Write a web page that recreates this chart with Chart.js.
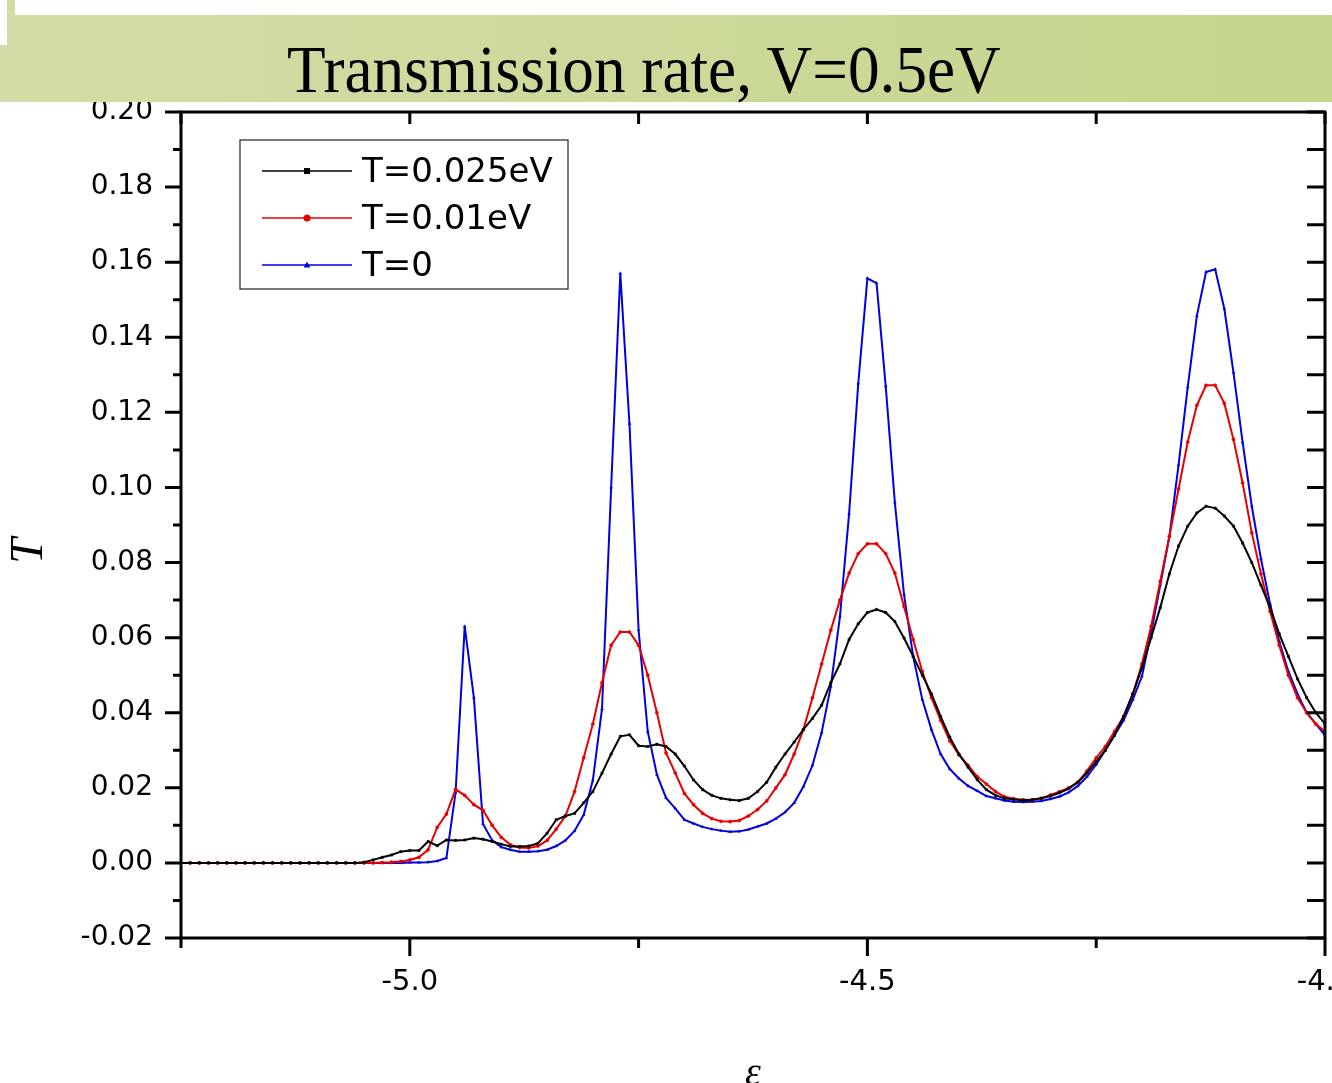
<!DOCTYPE html>
<html>
<head>
<meta charset="utf-8">
<script src="https://cdn.jsdelivr.net/npm/chart.js@4.4.0/dist/chart.umd.min.js"></script>
<style>
  body { margin: 0; width: 1332px; height: 1083px; overflow: hidden; position: relative; background: #fff; }
  #c { position: absolute; left: 0; top: 0; }
  .band { position: absolute; left: 0; top: 15px; width: 1332px; height: 87px;
          background: linear-gradient(to right, #d5dca7, #c3d68c); }
  .patch { position: absolute; left: 0; top: 0; width: 7px; height: 45px; background: #fff; }
  .strip { position: absolute; left: 7px; top: 0; width: 8px; height: 15px; background: #d3dba3; }
  .title { position: absolute; left: 287px; top: 35px; font-family: "Liberation Serif", serif;
           font-size: 68px; line-height: 68px; white-space: nowrap; color: #000;
           transform: scaleX(0.93); transform-origin: left top; }
</style>
</head>
<body>
<canvas id="c" width="1332" height="1083"></canvas>
<div class="band"></div>
<div class="patch"></div>
<div class="strip"></div>
<div class="title">Transmission rate, V=0.5eV</div>
<script>
// energy grid (eV)
const energies = [
  -5.25, -5.24, -5.23, -5.22, -5.21, -5.20, -5.19, -5.18, -5.17, -5.16,
  -5.15, -5.14, -5.13, -5.12, -5.11, -5.10, -5.09, -5.08, -5.07, -5.06,
  -5.05, -5.04, -5.03, -5.02, -5.01, -5.00, -4.99, -4.98, -4.97, -4.96,
  -4.95, -4.94, -4.93, -4.92, -4.91, -4.90, -4.89, -4.88, -4.87, -4.86,
  -4.85, -4.84, -4.83, -4.82, -4.81, -4.80, -4.79, -4.78, -4.77, -4.76,
  -4.75, -4.74, -4.73, -4.72, -4.71, -4.70, -4.69, -4.68, -4.67, -4.66,
  -4.65, -4.64, -4.63, -4.62, -4.61, -4.60, -4.59, -4.58, -4.57, -4.56,
  -4.55, -4.54, -4.53, -4.52, -4.51, -4.50, -4.49, -4.48, -4.47, -4.46,
  -4.45, -4.44, -4.43, -4.42, -4.41, -4.40, -4.39, -4.38, -4.37, -4.36,
  -4.35, -4.34, -4.33, -4.32, -4.31, -4.30, -4.29, -4.28, -4.27, -4.26,
  -4.25, -4.24, -4.23, -4.22, -4.21, -4.20, -4.19, -4.18, -4.17, -4.16,
  -4.15, -4.14, -4.13, -4.12, -4.11, -4.10, -4.09, -4.08, -4.07, -4.06,
  -4.05, -4.04, -4.03, -4.02, -4.01, -4.00
];

// T = 0.025 eV
const transT025 = [
  0, 0, 0, 0, 0, 0, 0, 0, 0, 0,
  0, 0, 0, 0, 0, 0, 0, 0, 0, 0,
  0.0002, 0.0008, 0.0015, 0.0021, 0.0030, 0.0033, 0.0033, 0.0057, 0.0046, 0.0061,
  0.0060, 0.0061, 0.0066, 0.0063, 0.0057, 0.0050, 0.0044, 0.0044, 0.0045, 0.0052,
  0.0079, 0.0115, 0.0125, 0.0132, 0.0160, 0.0190, 0.0239, 0.0290, 0.0337, 0.0341,
  0.0312, 0.0310, 0.0316, 0.0310, 0.0290, 0.0258, 0.0221, 0.0195, 0.0180, 0.0172,
  0.0168, 0.0166, 0.0172, 0.0190, 0.0215, 0.0255, 0.0290, 0.0322, 0.0355, 0.0385,
  0.0420, 0.0480, 0.0530, 0.0595, 0.0637, 0.0667, 0.0675, 0.0667, 0.0643, 0.0599,
  0.0550, 0.0500, 0.0450, 0.0390, 0.0335, 0.0290, 0.0255, 0.0222, 0.0195, 0.0180,
  0.0172, 0.0169, 0.0167, 0.0168, 0.0172, 0.0178, 0.0187, 0.0198, 0.0215, 0.0240,
  0.0270, 0.0300, 0.0340, 0.0390, 0.0450, 0.0520, 0.0600, 0.0680, 0.0770, 0.0844,
  0.0897, 0.0932, 0.0950, 0.0945, 0.0924, 0.0897, 0.0852, 0.0800, 0.0740, 0.0680,
  0.0610, 0.0550, 0.0490, 0.0440, 0.0400, 0.0370
];

// T = 0.01 eV
const transT010 = [
  0, 0, 0, 0, 0, 0, 0, 0, 0, 0,
  0, 0, 0, 0, 0, 0, 0, 0, 0, 0,
  0, 0, 0.0001, 0.0002, 0.0004, 0.0008, 0.0015, 0.0035, 0.0095, 0.0130,
  0.0196, 0.0180, 0.0155, 0.0140, 0.0100, 0.0068, 0.0048, 0.0041, 0.0040, 0.0045,
  0.0060, 0.0090, 0.0125, 0.0190, 0.0280, 0.0370, 0.0480, 0.0580, 0.0615, 0.0615,
  0.0580, 0.0500, 0.0400, 0.0293, 0.0240, 0.0185, 0.0155, 0.0132, 0.0118, 0.0111,
  0.0110, 0.0113, 0.0125, 0.0142, 0.0165, 0.0200, 0.0235, 0.0290, 0.0355, 0.0440,
  0.0530, 0.0620, 0.0700, 0.0772, 0.0824, 0.0850, 0.0850, 0.0824, 0.0772, 0.0683,
  0.0595, 0.0510, 0.0440, 0.0380, 0.0325, 0.0288, 0.0260, 0.0230, 0.0210, 0.0190,
  0.0176, 0.0171, 0.0168, 0.0168, 0.0172, 0.0181, 0.0190, 0.0200, 0.0215, 0.0245,
  0.0280, 0.0310, 0.0350, 0.0390, 0.0450, 0.0530, 0.0630, 0.0750, 0.0870, 0.0996,
  0.1121, 0.1219, 0.1272, 0.1272, 0.1224, 0.1128, 0.1012, 0.0879, 0.0770, 0.0670,
  0.0580, 0.0500, 0.0440, 0.0400, 0.0370, 0.0350
];

// T = 0
const transT0 = [
  0, 0, 0, 0, 0, 0, 0, 0, 0, 0,
  0, 0, 0, 0, 0, 0, 0, 0, 0, 0,
  0, 0, 0, 0, 0, 0.0001, 0.0001, 0.0002, 0.0005, 0.0013,
  0.0187, 0.0630, 0.0440, 0.0104, 0.0060, 0.0042, 0.0035, 0.0030, 0.0030, 0.0031,
  0.0035, 0.0045, 0.0060, 0.0085, 0.0128, 0.0220, 0.0410, 0.1000, 0.1570, 0.1170,
  0.0620, 0.0350, 0.0235, 0.0173, 0.0145, 0.0115, 0.0105, 0.0096, 0.0090, 0.0086,
  0.0083, 0.0084, 0.0089, 0.0097, 0.0105, 0.0118, 0.0135, 0.0160, 0.0203, 0.0260,
  0.0347, 0.0470, 0.0656, 0.0930, 0.1277, 0.1557, 0.1544, 0.1270, 0.0960, 0.0715,
  0.0550, 0.0435, 0.0355, 0.0290, 0.0250, 0.0225, 0.0205, 0.0192, 0.0178, 0.0172,
  0.0166, 0.0163, 0.0162, 0.0163, 0.0165, 0.0170, 0.0177, 0.0188, 0.0205, 0.0230,
  0.0262, 0.0300, 0.0340, 0.0380, 0.0435, 0.0497, 0.0613, 0.0740, 0.0870, 0.1060,
  0.1267, 0.1457, 0.1574, 0.1581, 0.1476, 0.1306, 0.1120, 0.0950, 0.0810, 0.0690,
  0.0590, 0.0510, 0.0450, 0.0400, 0.0370, 0.0340
];

const seriesLabels = ["T=0.025eV", "T=0.01eV", "T=0"];
const seriesColors = ["#000000", "#e60000", "#0000e0"];
const seriesStyles = ["rect", "circle", "triangle"];
const seriesValues = [transT025, transT010, transT0];

const datasets = seriesValues.map((vals, i) => ({
  label: seriesLabels[i],
  data: energies.map((e, k) => ({ x: e, y: vals[k] })),
  borderColor: seriesColors[i],
  backgroundColor: seriesColors[i],
  borderWidth: 2,
  pointStyle: seriesStyles[i],
  pointRadius: 1.6,
  pointBorderWidth: 0.5,
  tension: 0
}));

function drawMarker(ctx, style, x, y, r) {
  ctx.beginPath();
  if (style === "rect") {
    ctx.rect(x - r, y - r, 2 * r, 2 * r);
  } else if (style === "circle") {
    ctx.arc(x, y, r, 0, Math.PI * 2);
  } else {
    ctx.moveTo(x, y - r * 1.2);
    ctx.lineTo(x + r * 1.1, y + r * 0.8);
    ctx.lineTo(x - r * 1.1, y + r * 0.8);
    ctx.closePath();
  }
  ctx.fill();
}

// axis frame, Origin-style ticks, legend and axis titles
const framePlugin = {
  id: "frame",
  afterDraw(chart) {
    const ctx = chart.ctx;
    const a = chart.chartArea;
    const xs = chart.scales.x, ys = chart.scales.y;
    ctx.save();
    ctx.strokeStyle = "#000";
    ctx.lineWidth = 3;
    ctx.strokeRect(a.left, a.top, a.right - a.left, a.bottom - a.top);

    ys.ticks.forEach(t => {
      const py = ys.getPixelForValue(t.value);
      const major = Math.round(t.value * 100) % 2 === 0;
      ctx.beginPath();
      ctx.moveTo(a.left, py);
      ctx.lineTo(a.left - (major ? 16 : 8), py);
      ctx.moveTo(a.right, py);
      ctx.lineTo(a.right - 18, py);
      ctx.stroke();
    });
    xs.ticks.forEach(t => {
      const px = xs.getPixelForValue(t.value);
      const major = Math.round(t.value * 4) % 2 === 0;
      ctx.beginPath();
      ctx.moveTo(px, a.bottom);
      ctx.lineTo(px, a.bottom + (major ? 18 : 10));
      ctx.moveTo(px, a.top);
      ctx.lineTo(px, a.top + 12);
      ctx.stroke();
    });

    // legend
    const lx = a.left + 59, ly = a.top + 28;
    ctx.lineWidth = 1.2;
    ctx.strokeStyle = "#222";
    ctx.fillStyle = "#fff";
    ctx.fillRect(lx, ly, 328, 149);
    ctx.strokeRect(lx, ly, 328, 149);
    ctx.font = "34px 'DejaVu Sans'";
    ctx.textBaseline = "middle";
    ctx.textAlign = "left";
    chart.data.datasets.forEach((ds, i) => {
      const ry = ly + 31 + i * 47;
      ctx.strokeStyle = ds.borderColor;
      ctx.lineWidth = 1.6;
      ctx.beginPath();
      ctx.moveTo(lx + 22, ry);
      ctx.lineTo(lx + 112, ry);
      ctx.stroke();
      ctx.fillStyle = ds.borderColor;
      drawMarker(ctx, ds.pointStyle, lx + 67, ry, ds.pointStyle === "circle" ? 3.5 : 3);
      ctx.fillStyle = "#000";
      ctx.fillText(ds.label, lx + 122, ry + 2);
    });

    // axis titles
    ctx.fillStyle = "#000";
    ctx.textAlign = "center";
    ctx.font = "italic 46px 'Liberation Serif'";
    ctx.save();
    ctx.translate(30, 551);
    ctx.rotate(-Math.PI / 2);
    ctx.fillText("T", 0, 0);
    ctx.restore();
    ctx.font = "italic 40px 'Liberation Serif'";
    ctx.fillText("ε", (a.left + a.right) / 2, 1074);
    ctx.restore();
  }
};

new Chart(document.getElementById("c"), {
  type: "line",
  data: { datasets: datasets },
  options: {
    responsive: false,
    animation: false,
    devicePixelRatio: 1,
    layout: { padding: { top: 112, right: 7, bottom: 0, left: 0 } },
    plugins: { legend: { display: false }, tooltip: { enabled: false } },
    scales: {
      x: {
        type: "linear",
        min: -5.25,
        max: -4.0,
        grid: { display: false, drawTicks: false },
        border: { display: false },
        ticks: {
          stepSize: 0.25,
          autoSkip: false,
          maxRotation: 0,
          padding: 27,
          color: "#000",
          font: { family: "DejaVu Sans", size: 29 },
          callback: v => (Math.round(v * 4) % 2 === 0 ? v.toFixed(1) : "")
        },
        afterFit: s => { s.height = 145; s.paddingLeft = 0; s.paddingRight = 0; }
      },
      y: {
        min: -0.02,
        max: 0.2,
        grid: { display: false, drawTicks: false },
        border: { display: false },
        ticks: {
          stepSize: 0.01,
          autoSkip: false,
          padding: 28,
          color: "#000",
          font: { family: "DejaVu Sans", size: 28 },
          callback: v => (Math.round(v * 100) % 2 === 0 ? v.toFixed(2) : "")
        },
        afterFit: s => { s.width = 181; s.paddingTop = 0; s.paddingBottom = 0; }
      }
    }
  },
  plugins: [framePlugin]
});
</script>
</body>
</html>
